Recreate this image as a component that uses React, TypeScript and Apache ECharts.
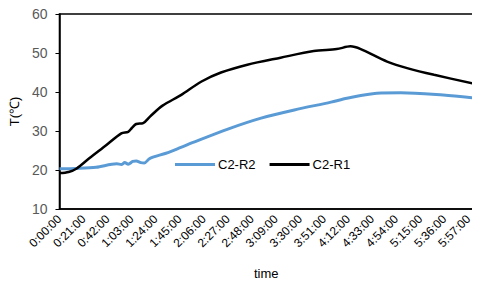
import React, { useEffect, useRef } from "react";
import * as echarts from "echarts";

const r2Minutes = [0, 15, 32, 50, 54, 57, 60, 64, 67, 71, 74, 79, 93, 106, 116, 147, 176, 205, 237, 251, 277, 298, 335, 361];
const r2Values = [20.3, 20.4, 20.7, 21.6, 21.4, 21.9, 21.5, 22.2, 22.3, 21.9, 21.8, 23.0, 24.3, 25.8, 27.0, 30.5, 33.3, 35.4, 37.4, 38.4, 39.7, 39.8, 39.2, 38.5];

const r1Minutes = [0, 8, 15, 26, 41, 54, 60, 63, 67, 73, 79, 90, 106, 124, 141, 164, 193, 222, 242, 254, 263, 286, 305, 327, 361];
const r1Values = [19.2, 19.5, 20.4, 23.0, 26.4, 29.4, 29.8, 30.7, 31.8, 32.0, 33.7, 36.5, 39.2, 42.7, 45.0, 47.0, 48.8, 50.5, 51.0, 51.7, 51.0, 47.8, 46.0, 44.4, 42.2];

const seriesNames = ["C2-R2", "C2-R1"];
const yTicks = { min: 10, max: 60, interval: 10 };
const xTicks = { min: 0, max: 361, interval: 21 };

function fmt(m: number): string {
  const h = Math.floor(m / 60);
  const mm = Math.round(m % 60);
  return `${h}:${mm < 10 ? "0" : ""}${mm}:00`;
}

export default function App() {
  const ref = useRef<HTMLDivElement>(null);
  useEffect(() => {
    if (!ref.current) return;
    const chart = echarts.init(ref.current, null, { renderer: "svg" });
    const font = "Liberation Sans, Arial, sans-serif";
    chart.setOption({
      animation: false,
      backgroundColor: "#fff",
      grid: {
        left: 58,
        right: 7,
        top: 14,
        bottom: 77,
        show: true,
        borderColor: "#000",
        borderWidth: 1.5,
      },
      legend: {
        left: 170,
        top: 153,
        icon: "rect",
        itemWidth: 40,
        itemHeight: 3,
        itemGap: 14,
        textStyle: { color: "#000", fontSize: 13, fontFamily: font, padding: [0, 0, 0, -2] },
        data: seriesNames,
      },
      xAxis: {
        type: "value",
        min: xTicks.min,
        max: xTicks.max,
        interval: xTicks.interval,
        name: "time",
        nameLocation: "middle",
        nameGap: 58,
        nameTextStyle: { color: "#000", fontSize: 13, fontFamily: font },
        axisLine: { show: true, lineStyle: { color: "#000", width: 1.5 } },
        axisTick: { show: false },
        splitLine: { show: false },
        axisLabel: {
          rotate: 45,
          color: "#000",
          fontSize: 12,
          fontFamily: font,
          margin: 8,
          showMaxLabel: false,
          formatter: (v: number) => fmt(v),
        },
      },
      yAxis: {
        type: "value",
        min: yTicks.min,
        max: yTicks.max,
        interval: yTicks.interval,
        name: "T(\u2103)",
        nameLocation: "middle",
        nameGap: 30,
        nameRotate: 90,
        nameTextStyle: { color: "#000", fontSize: 13, fontFamily: font },
        axisLine: { show: true, lineStyle: { color: "#000", width: 1.5 } },
        axisTick: { show: true, inside: false, length: 4, lineStyle: { color: "#000", width: 1 } },
        splitLine: { show: false },
        axisLabel: { color: "#595959", fontSize: 14, fontFamily: font, margin: 12 },
      },
      series: [
        {
          name: seriesNames[0],
          type: "line",
          showSymbol: false,
          smooth: 0.3,
          lineStyle: { color: "#5B9BD5", width: 3 },
          itemStyle: { color: "#5B9BD5" },
          data: r2Minutes.map((m, i) => [m, r2Values[i]]),
          z: 2,
        },
        {
          name: seriesNames[1],
          type: "line",
          showSymbol: false,
          smooth: 0.3,
          lineStyle: { color: "#000", width: 2.5 },
          itemStyle: { color: "#000" },
          data: r1Minutes.map((m, i) => [m, r1Values[i]]),
          z: 3,
        },
      ],
    });
    return () => chart.dispose();
  }, []);
  return <div ref={ref} style={{ width: 480, height: 286, margin: -8 }} />;
}
